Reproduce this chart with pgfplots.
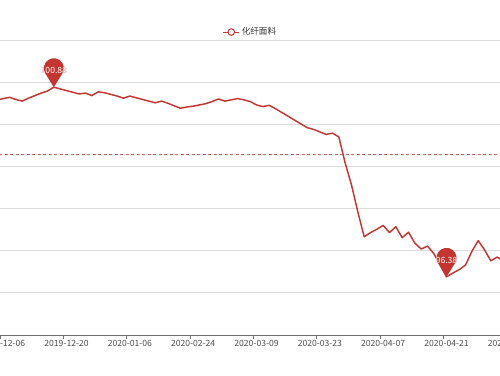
\documentclass[border=0pt]{standalone}
\usepackage{fontspec}
\setmainfont{Noto Sans CJK SC}
\usepackage{pgfplots}
\usepackage{pgfplotstable}
\usepackage[outline]{contour}
\contourlength{0.35pt}
\pgfplotsset{compat=1.18}
\definecolor{lred}{HTML}{C23531}
\definecolor{gridc}{HTML}{DDDDDD}
\definecolor{axc}{HTML}{707070}
\definecolor{txt}{HTML}{4D4D4D}
\definecolor{legtxt}{HTML}{333333}
\pgfdeclareplotmark{pin}{%
  \pgfpathmoveto{\pgfpoint{0pt}{0pt}}%
  \pgfpathlineto{\pgfpoint{-8.5pt}{13.7pt}}%
  \pgfpatharc{211.8}{-31.8}{10pt}%
  \pgfpathclose
  \pgfusepathqfill}
\pgfplotstableread{
k v
-1 100.57
0 100.61
1 100.64
2 100.59
3 100.55
4 100.62
5 100.68
6 100.74
7 100.79
8 100.88
9 100.84
10 100.80
11 100.76
12 100.72
13 100.74
14 100.68
15 100.77
16 100.75
17 100.71
18 100.67
19 100.62
20 100.67
21 100.63
22 100.59
23 100.55
24 100.51
25 100.55
26 100.50
27 100.44
28 100.38
29 100.41
30 100.43
31 100.46
32 100.49
33 100.54
34 100.60
35 100.55
36 100.58
37 100.61
38 100.58
39 100.54
40 100.46
41 100.42
42 100.45
43 100.37
44 100.28
45 100.19
46 100.10
47 100.01
48 99.92
49 99.88
50 99.82
51 99.76
52 99.79
53 99.70
54 99.08
55 98.56
56 97.92
57 97.33
58 97.43
59 97.51
60 97.60
61 97.43
62 97.57
63 97.31
64 97.44
65 97.18
66 97.04
67 97.11
68 96.93
69 96.66
70 96.38
71 96.47
72 96.55
73 96.66
74 96.98
75 97.24
76 97.02
77 96.76
78 96.85
79 96.76
}\datatable
\begin{document}
\begin{tikzpicture}
\useasboundingbox (6.333pt,-40pt) rectangle (506.333pt,335pt);
\clip (6.333pt,-40pt) rectangle (506.333pt,335pt);
\begin{axis}[
  at={(0pt,0pt)}, anchor=south west,
  x=6.3333pt, y=42.14pt,
  xmin=-1.5, xmax=80.5, ymin=95, ymax=102,
  axis x line=bottom, axis y line=left,
  x axis line style={-, draw=axc, line width=0.8pt},
  y axis line style={draw=none},
  xtick={0,10,...,80},
  xticklabels={2019-12-06,2019-12-20,2020-01-06,2020-02-24,2020-03-09,2020-03-23,2020-04-07,2020-04-21,2020-05-08},
  minor xtick={-0.5,9.5,...,79.5},
  major tick length=0pt, minor tick length=3.5pt,
  tick align=outside,
  minor x tick style={draw=axc, line width=0.8pt},
  xticklabel style={font=\fontsize{8.6}{10}\selectfont, text=txt, yshift=-2.2pt},
  ytick={95,96,...,102}, yticklabels={},
  ymajorgrids, grid style={gridc, line width=0.8pt},
  ytick style={draw=none},
  legend style={at={(0.4945,1.0271)}, anchor=center, draw=none, fill=none,
    font=\fontsize{8.6}{10}\selectfont, text=legtxt, inner sep=0pt},
  legend image code/.code={%
    \draw[line width=1pt] (0pt,0pt) -- (16pt,0pt);
    \draw[line width=1pt, fill=white] (8pt,0pt) circle (3.3pt);},
]
\addplot[lred, line width=1.45pt, mark=none, line join=round] table[x=k,y=v]{\datatable};
\addlegendentry{化纤面料}
\addplot[forget plot, lred!80, line width=0.6pt, dash pattern=on 3pt off 2.5pt] coordinates {(-1.5,99.29) (80.5,99.29)};
\addplot[forget plot, only marks, mark=pin, color=lred,
  nodes near coords={\contour{lred}{\pgfplotspointmeta}}, point meta=explicit symbolic,
  every node near coord/.style={anchor=center, yshift=16.5pt, text=white, font=\fontsize{8.6}{10}\selectfont}]
  coordinates {(8,100.88) [100.88] (70,96.38) [96.38]};
\end{axis}
\end{tikzpicture}
\end{document}
